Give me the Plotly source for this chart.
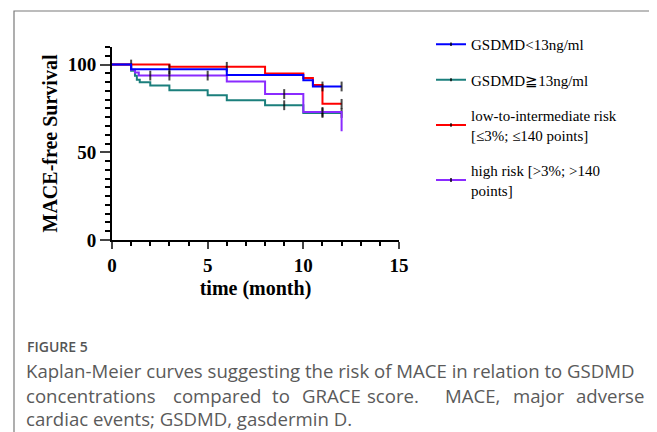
import plotly.graph_objects as go

# ---- data ----
names = ["GSDMD<13ng/ml", "GSDMD≧13ng/ml",
         "low-to-intermediate risk<br>[≤3%; ≤140 points]",
         "high risk [>3%; >140<br>points]"]
colors = ["#0000FF", "#1B7F7C", "#FF0000", "#8A2BFF"]

blue_t = [0, 1, 3, 6, 10, 10.5, 11, 12]
blue_s = [100, 97.3, 97.3, 94.1, 91.1, 87.5, 87.5, 87.5]
blue_c = [0, 0, 1, 0, 0, 0, 1, 1]

teal_t = [0, 1, 1.2, 1.3, 1.45, 2, 3, 5, 6, 8, 9, 10, 11, 12]
teal_s = [100, 96.5, 93.6, 91.4, 89.9, 88.0, 85.3, 82.5, 79.6, 76.8, 76.8, 72.4, 72.4, 72.4]
teal_c = [0, 0, 0, 0, 0, 0, 0, 0, 0, 0, 1, 0, 1, 1]

red_t = [0, 1, 3, 6, 8, 10, 10.5, 11, 12]
red_s = [100, 100, 98.7, 98.7, 94.9, 92.4, 88.3, 77.6, 77.6]
red_c = [0, 1, 0, 1, 0, 0, 0, 0, 1]

purple_t = [0, 1, 1.2, 1.4, 2, 3, 5, 6, 8, 9, 10, 11, 12]
purple_s = [100, 97.0, 95.5, 93.7, 93.7, 93.7, 93.7, 90.4, 83.2, 83.2, 73.0, 73.0, 62.0]
purple_c = [0, 0, 0, 0, 1, 1, 1, 0, 0, 1, 0, 1, 0]

x_ticks = [0, 5, 10, 15]
y_ticks = [0, 50, 100]

caption_head = "FIGURE 5"
caption_line1 = "Kaplan-Meier curves suggesting the risk of MACE in relation to GSDMD"
caption_line2 = ["concentrations", "compared", "to", "GRACE", "score.", "MACE,", "major", "adverse"]
caption_line3 = "cardiac events; GSDMD, gasdermin D."

# ---- geometry helpers (reference pixel -> paper) ----
OFF = 8                      # page body margin
W, H = 657 - OFF, 432 - OFF
L, R, T, B = 112, 399, 47, 240   # plot area in reference pixels
def xp(px):
    return (px - L) / (R - L)
def yp(py):
    return (B - py) / (B - T)

fig = go.Figure()
series = [
    (names[1], colors[1], teal_t, teal_s, teal_c),
    (names[3], colors[3], purple_t, purple_s, purple_c),
    (names[2], colors[2], red_t, red_s, red_c),
    (names[0], colors[0], blue_t, blue_s, blue_c),
]
legend_rank = {names[0]: 1, names[1]: 2, names[2]: 3, names[3]: 4}
for nm, col, t, s, c in series:
    fig.add_trace(go.Scatter(
        x=t, y=s, name=nm, mode="lines+markers",
        line=dict(color=col, width=2, shape="hv"),
        marker=dict(symbol="line-ns", size=[7 if v else 0 for v in c],
                    line=dict(color="black", width=2), color="black"),
        legendrank=legend_rank[nm], legendgroup=nm,
        hoverinfo="skip",
    ))

axis_font = dict(family="Liberation Serif", size=20, color="black")
tick_font = dict(family="Liberation Serif", size=19, color="black", weight="bold")
fig.update_xaxes(
    range=[0, 15], tickvals=x_ticks, ticks="outside", ticklen=7, tickwidth=2,
    showline=True, linewidth=2, linecolor="black", showgrid=False, zeroline=False,
    minor=dict(dtick=1, ticks="outside", ticklen=4, tickwidth=2, tickcolor="black", showgrid=False),
    tickfont=tick_font,
    title=dict(text="<b>time (month)</b>", font=axis_font, standoff=6),
)
fig.update_yaxes(
    range=[0, 110], tickvals=y_ticks, ticks="outside", ticklen=10, tickwidth=2,
    showline=True, linewidth=2, linecolor="black", showgrid=False, zeroline=False,
    minor=dict(dtick=5, ticks="outside", ticklen=5, tickwidth=2, tickcolor="black", showgrid=False),
    tickfont=tick_font,
    title=dict(text="<b>MACE-free Survival</b>", font=axis_font, standoff=5),
)

annotations = []
cap_font = dict(family="Open Sans", size=18.6, color="#5a5a5a")
annotations.append(dict(x=xp(25), y=yp(346), xref="paper", yref="paper", xanchor="left",
                        yanchor="middle", text=caption_head, showarrow=False,
                        font=dict(family="Open Sans", size=14, color="#555555", weight=600)))
annotations.append(dict(x=xp(24), y=yp(370), xref="paper", yref="paper", xanchor="left",
                        yanchor="middle", text=caption_line1, showarrow=False, font=cap_font))
word_x = [24, 171, 270, 300, 365, 443, 511, 574]
for wx, wd in zip(word_x, caption_line2):
    annotations.append(dict(x=xp(wx), y=yp(395), xref="paper", yref="paper", xanchor="left",
                            yanchor="middle", text=wd, showarrow=False, font=cap_font))
annotations.append(dict(x=xp(24), y=yp(418), xref="paper", yref="paper", xanchor="left",
                        yanchor="middle", text=caption_line3, showarrow=False, font=cap_font))

fig.update_layout(
    width=W, height=H,
    margin=dict(l=L - OFF, r=W - (R - OFF), t=T - OFF, b=H - (B - OFF), pad=0),
    paper_bgcolor="white", plot_bgcolor="white",
    showlegend=True,
    legend=dict(x=xp(431), y=yp(28), xanchor="left", yanchor="top",
                font=dict(family="Liberation Serif", size=15, color="black"),
                tracegroupgap=13, bgcolor="rgba(0,0,0,0)", itemwidth=30),
    annotations=annotations,
    shapes=[dict(type="rect", xref="paper", yref="paper",
                 x0=xp(14), x1=xp(650), y0=yp(445), y1=yp(11),
                 line=dict(color="#7a7a7a", width=1.2), fillcolor="rgba(0,0,0,0)")],
)

fig.write_html("out.html")
